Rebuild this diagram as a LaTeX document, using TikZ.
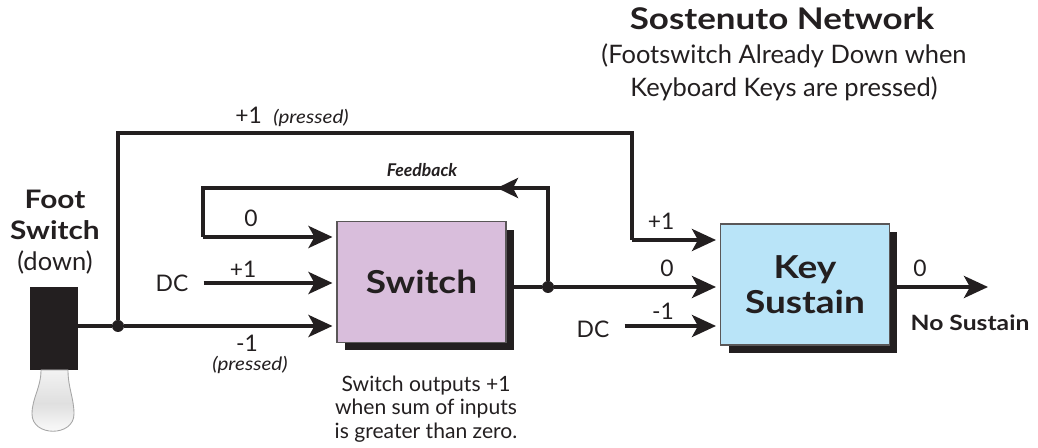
\documentclass[tikz,border=0pt]{standalone}
\usepackage{fontspec}
\setmainfont{Lato}[BoldFeatures={FakeStretch=1.17}, ItalicFeatures={FakeStretch=1.12}]
\usetikzlibrary{arrows.meta,shadows}

\definecolor{ink}{HTML}{231F20}
\definecolor{lilac}{HTML}{D9BEDC}
\definecolor{skyblue}{HTML}{B9E4F8}

\tikzset{
  sig/.style={line width=0.08cm, draw=ink},
  arr/.style={sig, -{Stealth[length=0.48cm,width=0.44cm,inset=0.12cm]}, shorten >=0.08cm},
  block/.style={draw=ink!75, line width=0.6pt, minimum width=3.38cm, minimum height=2.42cm,
    align=center, text=ink, font=\fontsize{18}{20}\selectfont\bfseries,
    general shadow={fill=ink, shadow xshift=0.16cm, shadow yshift=-0.16cm}},
  lbl/.style={text=ink, inner sep=0pt, font=\fontsize{13}{15}\selectfont},
  small/.style={text=ink, inner sep=0pt, font=\fontsize{10.5}{12}\selectfont\itshape},
  heading/.style={text=ink, inner sep=0pt, align=center},
  dot/.style={circle, fill=ink, inner sep=0pt, minimum size=0.24cm},
}

\begin{document}
\begin{tikzpicture}[x=0.02cm, y=-0.02cm]
  \useasboundingbox (0,0) rectangle (1038,448);

  %%%%% title
  \node[heading, font=\fontsize{17}{19}\selectfont\bfseries] (title) at (782,19) {Sostenuto Network};
  \node[heading, font=\fontsize{14.5}{18.7}\selectfont] (subtitle) at (784,72)
    {(Footswitch Already Down when\\Keyboard Keys are pressed)};

  %%%%% foot switch
  \node[heading, font=\fontsize{14.5}{17.6}\selectfont] (fslabel) at (55,232)
    {\textbf{Foot}\\\textbf{Switch}\\(down)};
  \node[fill=ink, inner sep=0pt, minimum width=0.96cm, minimum height=1.66cm] (fs) at (54,328.5) {};
  \draw[draw=gray!70, top color=gray!10, bottom color=white, middle color=gray!25, line width=0.5pt]
    (41,370) .. controls (41,388) and (32,398) .. (32,414)
    .. controls (32,437) and (74,437) .. (74,414)
    .. controls (74,398) and (68,388) .. (68,370) -- cycle;

  %%%%% blocks
  \node[block, fill=lilac] (switch) at (421.5,282) {Switch};
  \node[block, fill=skyblue] (keysus) at (805,284.5) {Key\\Sustain};

  %%%%% junctions and bends
  \node[dot] (j1) at (118,326) {};
  \node[dot] (j2) at (548,287) {};
  \coordinate (topL) at (118,133);
  \coordinate (topR) at (632,133);
  \coordinate (fbR) at (548,188);
  \coordinate (fbA) at (497,188);
  \coordinate (fbL) at (203,188);
  \coordinate (in0) at (203,237);

  %%%%% switch inputs
  \node[lbl] (dc1) at (172,283) {DC};
  \draw[sig] (fs.east |- j1) -- (j1);
  \draw[arr] (j1) -- (j1 -| switch.west);
  \draw[arr] ([xshift=0.3cm]dc1.east) -- (dc1.east -| switch.west);
  \draw[sig] (j2) -- (fbR) -- (fbL) -- (in0);
  \draw[arr] (in0) -- (in0 -| switch.west);
  \draw[sig, -{Stealth[length=0.42cm,width=0.4cm,inset=0.1cm]}] (fbR) -- (fbA);

  \node[lbl] (zeroA) at (251,218) {0};
  \node[lbl] (plusA) at (243,269) {+1};
  \node[lbl] (minusA) at (247,343) {-1};
  \node[small] (pressA) at (250,365) {(pressed)};
  \node[small, font=\fontsize{10}{12}\selectfont\bfseries\itshape] (fblabel) at (422,170) {Feedback};

  \node[heading, font=\fontsize{12}{13.5}\selectfont] (caption) at (426,409)
    {Switch outputs +1\\when sum of inputs\\is greater than zero.};

  %%%%% key sustain inputs
  \draw[sig] (j1) -- (topL) -- (topR) -- (topR |- 0,240);
  \draw[arr] (topR |- 0,240) -- (keysus.west |- 0,240);
  \node[lbl, anchor=base west] (plusT) at (235,124) {+1};
  \node[small, anchor=base west] (pressT) at (273,124) {(pressed)};

  \draw[sig] (switch.east |- j2) -- (j2);
  \draw[arr] (j2) -- (j2 -| keysus.west);
  \node[lbl] (dc2) at (593,329) {DC};
  \draw[arr] ([xshift=0.3cm]dc2.east |- 0,326) -- (keysus.west |- 0,326);

  \node[lbl] (plusB) at (661,221) {+1};
  \node[lbl] (zeroB) at (667,268) {0};
  \node[lbl] (minusB) at (663,311) {-1};

  %%%%% output
  \coordinate (out) at (988,287);
  \draw[arr, shorten >=0pt] (keysus.east |- out) -- (out);
  \node[lbl] (zeroC) at (920,268) {0};
  \node[lbl, font=\fontsize{12}{14}\selectfont\bfseries] (nosus) at (970,323) {No Sustain};
\end{tikzpicture}
\end{document}
